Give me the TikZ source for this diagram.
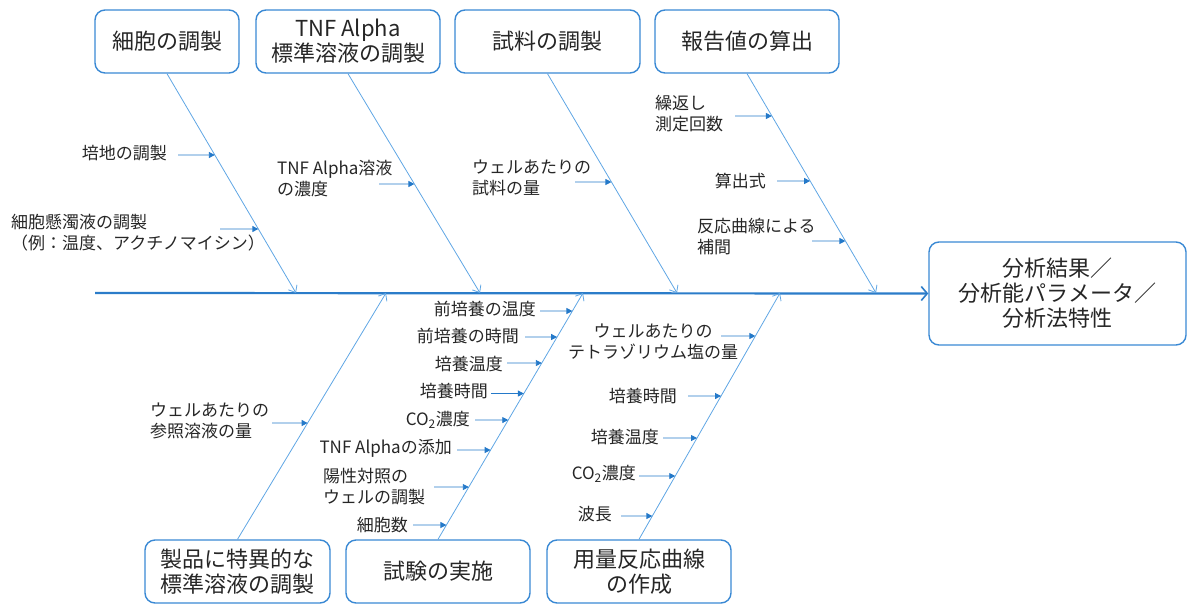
\documentclass[tikz,border=0pt]{standalone}
\usepackage{fontspec}
\setmainfont{Noto Sans CJK JP}
\usetikzlibrary{arrows.meta}
\definecolor{bdr}{HTML}{3A89D4}
\definecolor{spc}{HTML}{2B7CC9}
\definecolor{bonec}{HTML}{5FA6E4}
\definecolor{subc}{HTML}{2479C9}
\definecolor{txt}{HTML}{262626}
\tikzset{
  box/.style={draw=bdr, line width=1.4pt, rounded corners=10pt, fill=white,
    minimum height=63pt, inner sep=2pt, align=center,
    font=\fontsize{22}{25}\selectfont, text=txt},
  lab/.style={inner sep=0pt, font=\fontsize{17}{21}\selectfont, text=txt},
  bone/.style={draw=bonec, line width=0.8pt,
    -{Straight Barb[length=6pt,width=10pt,line width=0.8pt]}},
  subarrow/.style={draw=subc, line width=0.9pt, -{Triangle[length=6pt,width=6pt]}},
  spine/.style={draw=spc, line width=2.2pt,
    -{Straight Barb[length=6pt,width=14pt,line width=1.6pt]}}
}
\newcommand\subarr[4]{%
  \coordinate (#1) at (#2,#3);
  \coordinate (#1h) at (#2+10,#3);
  \draw[subarrow] (#1) -- (intersection of #4s--#4e and #1--#1h);
}
\begin{document}
\begin{tikzpicture}[x=1pt,y=-1pt]
\useasboundingbox (0,0) rectangle (1188,605);

% boxes
\node[box, minimum width=144pt] (c1) at (167,41.5) {細胞の調製};
\node[box, minimum width=184pt] (c2) at (348,41.5) {TNF Alpha\\標準溶液の調製};
\node[box, minimum width=185pt] (c3) at (547.5,41.5) {試料の調製};
\node[box, minimum width=184pt] (c4) at (747,41.5) {報告値の算出};
\node[box, minimum width=185pt] (c5) at (237.5,571.5) {製品に特異的な\\標準溶液の調製};
\node[box, minimum width=184pt] (c6) at (438,571.5) {試験の実施};
\node[box, minimum width=184pt] (c7) at (639,571.5) {用量反応曲線\\の作成};
\node[box, minimum width=257pt, minimum height=103pt] (res) at (1057.5,293.5) {分析結果／\\分析能パラメータ／\\分析法特性};

% spine
\coordinate (sp0) at (95,293);
\draw[spine] (sp0) -- (res.west);

% bones
\coordinate (bt1s) at (c1.south); \coordinate (bt1e) at (296,293);
\coordinate (bt2s) at (c2.south); \coordinate (bt2e) at (480,293);
\coordinate (bt3s) at (c3.south); \coordinate (bt3e) at (677,293);
\coordinate (bt4s) at (c4.south); \coordinate (bt4e) at (876,293);
\coordinate (bb1s) at (c5.north); \coordinate (bb1e) at (386,293);
\coordinate (bb2s) at (c6.north); \coordinate (bb2e) at (583,293);
\coordinate (bb3s) at (c7.north); \coordinate (bb3e) at (780,293);
\foreach \b in {bt1,bt2,bt3,bt4,bb1,bb2,bb3} {\draw[bone] (\b s) -- (\b e);}

% top bone 1
\node[lab, anchor=east] (l11) at (167,153) {培地の調製};
\subarr{a11}{178}{155}{bt1}
\node[lab, anchor=west, align=left] (l12) at (11,232.5) {細胞懸濁液の調製\\（例：温度、アクチノマイシン）};
\subarr{a12}{220}{229}{bt1}

% top bone 2
\node[lab, anchor=west, align=left] (l21) at (277,179) {TNF Alpha溶液\\の濃度};
\subarr{a21}{379}{184}{bt2}

% top bone 3
\node[lab, anchor=west, align=left] (l31) at (472,177.5) {ウェルあたりの\\試料の量};
\subarr{a31}{575}{182}{bt3}

% top bone 4
\node[lab, anchor=west, align=left] (l41) at (655,113.5) {繰返し\\測定回数};
\subarr{a41}{735}{116}{bt4}
\node[lab, anchor=east] (l42) at (766,181) {算出式};
\subarr{a42}{777}{181}{bt4}
\node[lab, anchor=west, align=left] (l43) at (697,237) {反応曲線による\\補間};
\subarr{a43}{812}{241}{bt4}

% bottom bone 1
\node[lab, anchor=west, align=left] (l51) at (150,420.5) {ウェルあたりの\\参照溶液の量};
\subarr{a51}{272}{423}{bb1}

% bottom bone 2
\node[lab, anchor=east] (l61) at (536,309) {前培養の温度};
\subarr{a61}{540}{311}{bb2}
\node[lab, anchor=east] (l62) at (519,336) {前培養の時間};
\subarr{a62}{525}{337}{bb2}
\node[lab, anchor=east] (l63) at (503,364) {培養温度};
\subarr{a63}{507}{363}{bb2}
\node[lab, anchor=east] (l64) at (488,391) {培養時間};
\subarr{a64}{491}{393.5}{bb2}
\node[lab, anchor=east] (l65) at (470,420) {CO\textsubscript{2}濃度};
\subarr{a65}{475}{420}{bb2}
\node[lab, anchor=east] (l66) at (452,448) {TNF Alphaの添加};
\subarr{a66}{457}{450}{bb2}
\node[lab, anchor=west, align=left] (l67) at (323,486.5) {陽性対照の\\ウェルの調製};
\subarr{a67}{434}{487}{bb2}
\node[lab, anchor=east] (l68) at (408,525) {細胞数};
\subarr{a68}{413}{525}{bb2}

% bottom bone 3
\node[lab, align=center] (l71) at (653,342) {ウェルあたりの\\テトラゾリウム塩の量};
\subarr{a71}{721}{336}{bb3}
\node[lab, anchor=east] (l72) at (677,396) {培養時間};
\subarr{a72}{688}{396}{bb3}
\node[lab, anchor=east] (l73) at (659,437) {培養温度};
\subarr{a73}{663}{438}{bb3}
\node[lab, anchor=east] (l74) at (636,474) {CO\textsubscript{2}濃度};
\subarr{a74}{639}{476}{bb3}
\node[lab, anchor=east] (l75) at (612,514) {波長};
\subarr{a75}{621}{516}{bb3}
\end{tikzpicture}
\end{document}
